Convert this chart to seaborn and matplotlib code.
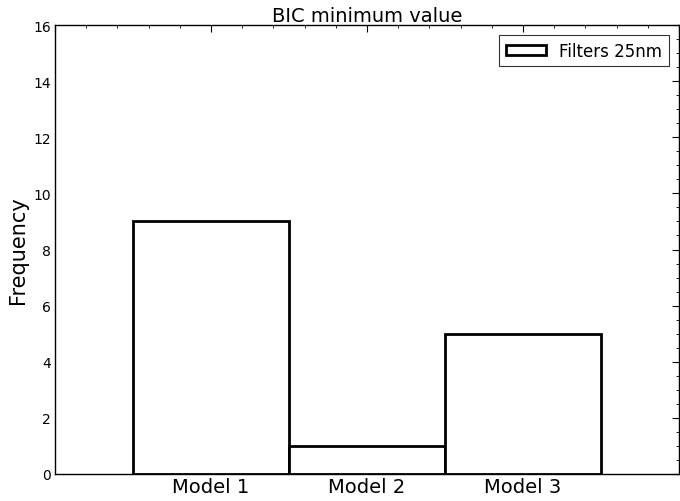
import numpy as np
import pandas as pd
import matplotlib
matplotlib.use("Agg")
import matplotlib.pyplot as plt
import seaborn as sns
from matplotlib.patches import Patch
from matplotlib.ticker import MultipleLocator

models = ["Model 1", "Model 2", "Model 3"]
counts = [9, 1, 5]
legend_label = "Filters 25nm"

sns.set_style("white")
plt.rcParams["font.family"] = ["DejaVu Sans"]
plt.rcParams.update({"text.color": "black", "axes.labelcolor": "black",
                     "xtick.color": "black", "ytick.color": "black"})

df = pd.DataFrame({"model": models, "count": counts})

fig = plt.figure(figsize=(6.8, 5.02), dpi=100)
ax = fig.add_axes([55 / 680, 1 - 475 / 502, 624 / 680, 449 / 502])

sns.barplot(data=df, x="model", y="count", ax=ax, width=1.0,
            facecolor="white", edgecolor="black", linewidth=2.0)

ax.set_xlim(-1, 3)
ax.set_ylim(0, 16)
ax.set_xticks([-1, 0, 1, 2, 3])
ax.set_xticklabels(["", "Model 1", "Model 2", "Model 3", ""], fontsize=14)
ax.xaxis.set_minor_locator(MultipleLocator(0.2))
ax.yaxis.set_major_locator(MultipleLocator(2))
ax.yaxis.set_minor_locator(MultipleLocator(0.5))
ax.tick_params(axis="both", which="both", direction="in", top=True, right=True,
               color="black", labelcolor="black")
ax.tick_params(which="major", length=5, width=0.8)
ax.tick_params(which="minor", length=2.5, width=0.6)
ax.tick_params(axis="y", labelsize=10, pad=3)
ax.tick_params(axis="x", pad=2)

for s in ax.spines.values():
    s.set_color("black")
    s.set_linewidth(1.0)

ax.set_xlabel("")
ax.set_ylabel("Frequency", fontsize=15, color="black")
ax.set_title("BIC minimum value", fontsize=14, pad=3, color="black")

handle = Patch(facecolor="white", edgecolor="black", linewidth=2)
leg = ax.legend([handle], [legend_label], loc="upper right", fontsize=12,
                fancybox=False, frameon=True, borderaxespad=0.6,
                handlelength=2.4, handleheight=0.6)
leg.get_frame().set_edgecolor("black")
leg.get_frame().set_linewidth(0.8)
for t in leg.get_texts():
    t.set_color("black")

fig.savefig("out.png", dpi=100, facecolor="white")
